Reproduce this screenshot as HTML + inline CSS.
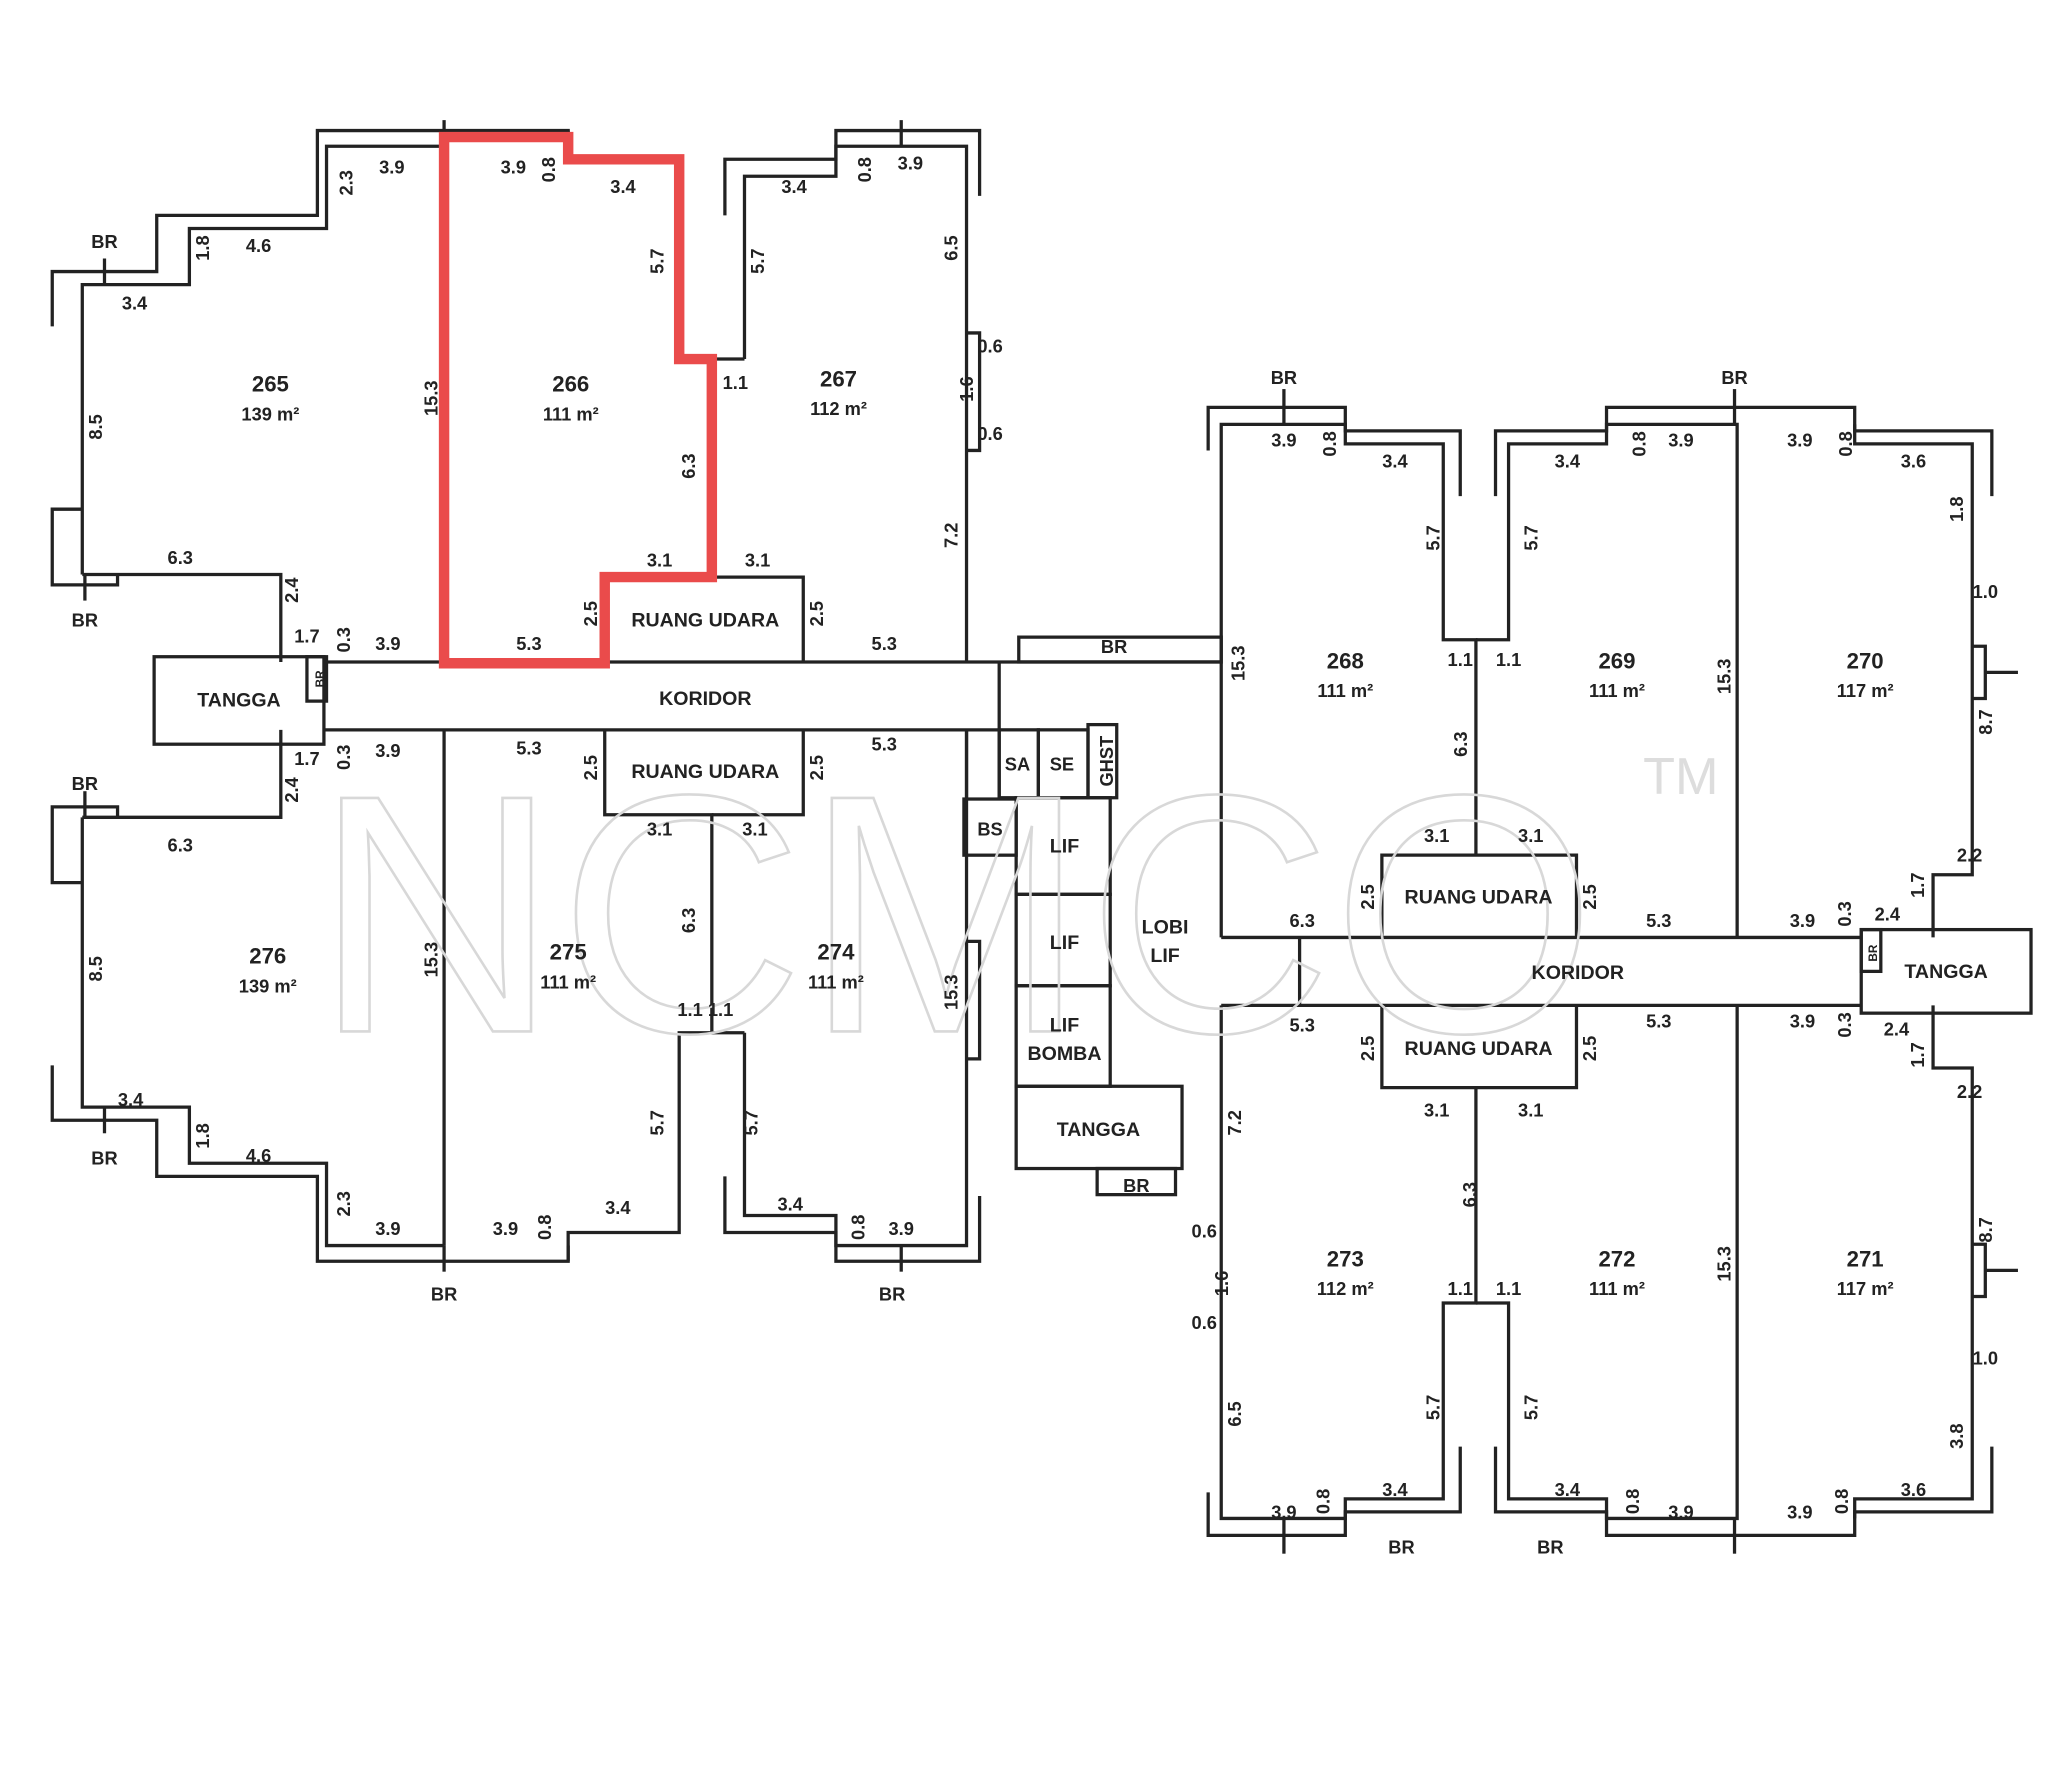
<!DOCTYPE html>
<html><head><meta charset="utf-8"><style>
html,body{margin:0;padding:0;background:#fff;}
svg{display:block;}
text{font-family:"Liberation Sans",sans-serif;font-weight:bold;fill:#222;}
.d{font-size:14px;}
.l{font-size:15px;}
.n{font-size:17px;}
</style></head><body>
<svg width="2048" height="1790" viewBox="0 0 1568 1371" preserveAspectRatio="none" xmlns="http://www.w3.org/2000/svg">
<rect width="1568" height="1371" fill="#fff"/>
<g fill="none" stroke="#222" stroke-width="2.5">
<g id="lt">
<polyline points="63,440 63,218 145,218 145,175 250,175 250,112 340,112"/>
<polyline points="40,250 40,208 120,208 120,165 243,165 243,100 435,100 435,112"/>
<polyline points="63,390 40,390 40,448 90,448 90,440"/>
<line x1="80" y1="198" x2="80" y2="218"/>
<line x1="65" y1="440" x2="65" y2="460"/>
<polyline points="63,440 215,440 215,507"/>
<line x1="340" y1="112" x2="340" y2="507"/>
<polyline points="435,100 435,122 520,122 520,275 545,275 545,442 463,442 463,507"/>
<polyline points="555,165 555,122 640,122 640,100 750,100 750,150"/>
<polyline points="570,275 570,135 640,135 640,112 740,112 740,507"/>
<polyline points="740,255 750,255 750,345 740,345"/>
<line x1="545" y1="275" x2="570" y2="275"/>
<polyline points="545,442 615,442 615,507"/>
<line x1="690" y1="92" x2="690" y2="112"/>
<line x1="340" y1="92" x2="340" y2="112"/>
</g>
<use href="#lt" transform="matrix(1 0 0 -1 0 1066)"/>
<line x1="248" y1="507" x2="935" y2="507"/>
<line x1="248" y1="559" x2="765" y2="559"/>
<rect x="118" y="503" width="130" height="67"/>
<rect x="235" y="503" width="15" height="34"/>
<rect x="780" y="488" width="155" height="19"/>
<line x1="765" y1="507" x2="765" y2="612"/>
<rect x="765" y="559" width="30" height="52"/>
<rect x="795" y="559" width="38" height="52"/>
<rect x="833" y="555" width="22" height="56"/>
<rect x="738" y="612" width="40" height="43"/>
<line x1="740" y1="559" x2="740" y2="612"/>
<rect x="778" y="611" width="72" height="74"/>
<rect x="778" y="685" width="72" height="70"/>
<rect x="778" y="755" width="72" height="77"/>
<rect x="778" y="832" width="127" height="63"/>
<rect x="840" y="895" width="60" height="20"/>
<g id="rt">
<polyline points="935,718 935,325 1030,325 1030,340 1105,340 1105,490 1130,490 1130,655"/>
<polyline points="925,345 925,312 1030,312 1030,330 1118,330 1118,380"/>
<line x1="983" y1="298" x2="983" y2="325"/>
<polyline points="1130,490 1155,490 1155,340 1230,340 1230,325 1330,325 1330,718"/>
<polyline points="1145,380 1145,330 1230,330 1230,312 1420,312 1420,330 1525,330 1525,380"/>
<line x1="1328" y1="298" x2="1328" y2="325"/>
<polyline points="1420,325 1420,340 1510,340 1510,670 1480,670 1480,718"/>
<polyline points="1510,495 1520,495 1520,535 1510,535"/>
<line x1="1520" y1="515" x2="1545" y2="515"/>
<polyline points="1058,718 1058,655 1207,655 1207,718"/>
<line x1="935" y1="718" x2="1425" y2="718"/>
</g>
<use href="#rt" transform="matrix(1 0 0 -1 0 1488)"/>
<line x1="995" y1="718" x2="995" y2="770"/>
<rect x="1425" y="712" width="130" height="64"/>
<rect x="1425" y="712" width="15" height="32"/>
</g>
<polygon points="340,105 435,105 435,122 520,122 520,275 545,275 545,442 463,442 463,508 340,508" fill="none" stroke="#ea4b4b" stroke-width="8"/>
<text x="240" y="790" font-size="260" style="fill:none;stroke:#d8d8d8;stroke-width:2;font-weight:normal">NCMCO</text>
<text x="1258" y="608" font-size="40" style="fill:#ddd;font-weight:normal">TM</text>
<!-- unit labels -->
<g class="n" text-anchor="middle">
<text x="207" y="300">265</text><text x="207" y="322" class="d">139 m²</text>
<text x="437" y="300">266</text><text x="437" y="322" class="d">111 m²</text>
<text x="642" y="296">267</text><text x="642" y="318" class="d">112 m²</text>
<text x="205" y="738">276</text><text x="205" y="760" class="d">139 m²</text>
<text x="435" y="735">275</text><text x="435" y="757" class="d">111 m²</text>
<text x="640" y="735">274</text><text x="640" y="757" class="d">111 m²</text>
<text x="1030" y="512">268</text><text x="1030" y="534" class="d">111 m²</text>
<text x="1238" y="512">269</text><text x="1238" y="534" class="d">111 m²</text>
<text x="1428" y="512">270</text><text x="1428" y="534" class="d">117 m²</text>
<text x="1030" y="970">273</text><text x="1030" y="992" class="d">112 m²</text>
<text x="1238" y="970">272</text><text x="1238" y="992" class="d">111 m²</text>
<text x="1428" y="970">271</text><text x="1428" y="992" class="d">117 m²</text>
</g>
<g class="l" text-anchor="middle">
<text x="540" y="480">RUANG UDARA</text>
<text x="540" y="596">RUANG UDARA</text>
<text x="540" y="540">KORIDOR</text>
<text x="183" y="541">TANGGA</text>
<text x="1132" y="692">RUANG UDARA</text>
<text x="1132" y="808">RUANG UDARA</text>
<text x="1208" y="750">KORIDOR</text>
<text x="1490" y="749">TANGGA</text>
<text x="841" y="870">TANGGA</text>
<text x="815" y="653">LIF</text><text x="815" y="727">LIF</text>
<text x="815" y="790">LIF</text><text x="815" y="812">BOMBA</text>
<text x="892" y="715">LOBI</text><text x="892" y="737">LIF</text>
<text x="758" y="640" class="d">BS</text>
<text x="779" y="590" class="d">SA</text><text x="813" y="590" class="d">SE</text>
</g>
<g class="d" text-anchor="middle">
<text x="80" y="190">BR</text><text x="65" y="480">BR</text><text x="65" y="605">BR</text><text x="80" y="892">BR</text>
<text x="340" y="996">BR</text><text x="683" y="996">BR</text>
<text x="983" y="294">BR</text><text x="1328" y="294">BR</text>
<text x="853" y="500">BR</text><text x="870" y="913">BR</text>
<text x="1073" y="1190">BR</text><text x="1187" y="1190">BR</text>
<text x="300" y="133">3.9</text><text x="393" y="133">3.9</text><text x="477" y="148">3.4</text>
<text x="608" y="148">3.4</text><text x="697" y="130">3.9</text>
<text x="198" y="193">4.6</text><text x="103" y="237">3.4</text>
<text x="138" y="432">6.3</text><text x="235" y="492">1.7</text><text x="297" y="498">3.9</text>
<text x="405" y="498">5.3</text><text x="505" y="434">3.1</text><text x="580" y="434">3.1</text>
<text x="677" y="498">5.3</text><text x="563" y="298">1.1</text>
<text x="758" y="270">0.6</text><text x="758" y="337">0.6</text>
<text x="235" y="586">1.7</text><text x="297" y="580">3.9</text>
<text x="405" y="578">5.3</text><text x="677" y="575">5.3</text>
<text x="505" y="640">3.1</text><text x="578" y="640">3.1</text>
<text x="138" y="652">6.3</text><text x="100" y="847">3.4</text><text x="198" y="890">4.6</text>
<text x="297" y="946">3.9</text><text x="387" y="946">3.9</text><text x="473" y="930">3.4</text>
<text x="605" y="927">3.4</text><text x="690" y="946">3.9</text>
<text x="540" y="778">1.1 1.1</text>
<text x="983" y="342">3.9</text><text x="1068" y="358">3.4</text>
<text x="1200" y="358">3.4</text><text x="1287" y="342">3.9</text>
<text x="1378" y="342">3.9</text><text x="1465" y="358">3.6</text>
<text x="1118" y="510">1.1</text><text x="1155" y="510">1.1</text>
<text x="1100" y="645">3.1</text><text x="1172" y="645">3.1</text>
<text x="997" y="710">6.3</text><text x="1270" y="710">5.3</text>
<text x="1380" y="710">3.9</text><text x="1445" y="705">2.4</text>
<text x="1508" y="660">2.2</text><text x="1520" y="458">1.0</text>
<text x="997" y="790">5.3</text><text x="1270" y="787">5.3</text>
<text x="1380" y="787">3.9</text><text x="1452" y="793">2.4</text>
<text x="1508" y="841">2.2</text><text x="1520" y="1045">1.0</text>
<text x="1100" y="855">3.1</text><text x="1172" y="855">3.1</text>
<text x="1118" y="992">1.1</text><text x="1155" y="992">1.1</text>
<text x="922" y="948">0.6</text><text x="922" y="1018">0.6</text>
<text x="983" y="1163">3.9</text><text x="1068" y="1146">3.4</text>
<text x="1200" y="1146">3.4</text><text x="1287" y="1163">3.9</text>
<text x="1378" y="1163">3.9</text><text x="1465" y="1146">3.6</text>
</g>
<g class="d" text-anchor="middle">
<text transform="translate(270,140) rotate(-90)">2.3</text>
<text transform="translate(160,190) rotate(-90)">1.8</text>
<text transform="translate(78,327) rotate(-90)">8.5</text>
<text transform="translate(335,305) rotate(-90)">15.3</text>
<text transform="translate(228,452) rotate(-90)">2.4</text>
<text transform="translate(268,490) rotate(-90)">0.3</text>
<text transform="translate(457,470) rotate(-90)">2.5</text>
<text transform="translate(630,470) rotate(-90)">2.5</text>
<text transform="translate(508,200) rotate(-90)">5.7</text>
<text transform="translate(585,200) rotate(-90)">5.7</text>
<text transform="translate(532,357) rotate(-90)">6.3</text>
<text transform="translate(733,190) rotate(-90)">6.5</text>
<text transform="translate(745,298) rotate(-90)">1.6</text>
<text transform="translate(733,410) rotate(-90)">7.2</text>
<text transform="translate(425,130) rotate(-90)">0.8</text>
<text transform="translate(667,130) rotate(-90)">0.8</text>
<text transform="translate(268,580) rotate(-90)">0.3</text>
<text transform="translate(228,605) rotate(-90)">2.4</text>
<text transform="translate(457,588) rotate(-90)">2.5</text>
<text transform="translate(630,588) rotate(-90)">2.5</text>
<text transform="translate(78,742) rotate(-90)">8.5</text>
<text transform="translate(335,735) rotate(-90)">15.3</text>
<text transform="translate(532,705) rotate(-90)">6.3</text>
<text transform="translate(733,760) rotate(-90)">15.3</text>
<text transform="translate(508,860) rotate(-90)">5.7</text>
<text transform="translate(580,860) rotate(-90)">5.7</text>
<text transform="translate(160,870) rotate(-90)">1.8</text>
<text transform="translate(268,922) rotate(-90)">2.3</text>
<text transform="translate(422,940) rotate(-90)">0.8</text>
<text transform="translate(662,940) rotate(-90)">0.8</text>
<text transform="translate(852,583) rotate(-90)">GHST</text>
<text transform="translate(248,520) rotate(-90)" font-size="9">BR</text>
<text transform="translate(1023,340) rotate(-90)">0.8</text>
<text transform="translate(1260,340) rotate(-90)">0.8</text>
<text transform="translate(1418,340) rotate(-90)">0.8</text>
<text transform="translate(1102,412) rotate(-90)">5.7</text>
<text transform="translate(1177,412) rotate(-90)">5.7</text>
<text transform="translate(1503,390) rotate(-90)">1.8</text>
<text transform="translate(953,508) rotate(-90)">15.3</text>
<text transform="translate(1325,518) rotate(-90)">15.3</text>
<text transform="translate(1525,553) rotate(-90)">8.7</text>
<text transform="translate(1123,570) rotate(-90)">6.3</text>
<text transform="translate(1052,687) rotate(-90)">2.5</text>
<text transform="translate(1222,687) rotate(-90)">2.5</text>
<text transform="translate(1417,700) rotate(-90)">0.3</text>
<text transform="translate(1473,678) rotate(-90)">1.7</text>
<text transform="translate(1052,803) rotate(-90)">2.5</text>
<text transform="translate(1222,803) rotate(-90)">2.5</text>
<text transform="translate(1417,785) rotate(-90)">0.3</text>
<text transform="translate(1473,808) rotate(-90)">1.7</text>
<text transform="translate(950,860) rotate(-90)">7.2</text>
<text transform="translate(1130,915) rotate(-90)">6.3</text>
<text transform="translate(1325,968) rotate(-90)">15.3</text>
<text transform="translate(1525,942) rotate(-90)">8.7</text>
<text transform="translate(940,983) rotate(-90)">1.6</text>
<text transform="translate(950,1083) rotate(-90)">6.5</text>
<text transform="translate(1102,1078) rotate(-90)">5.7</text>
<text transform="translate(1177,1078) rotate(-90)">5.7</text>
<text transform="translate(1503,1100) rotate(-90)">3.8</text>
<text transform="translate(1018,1150) rotate(-90)">0.8</text>
<text transform="translate(1255,1150) rotate(-90)">0.8</text>
<text transform="translate(1415,1150) rotate(-90)">0.8</text>
<text transform="translate(1437,730) rotate(-90)" font-size="9">BR</text>
</g>
</svg>
</body></html>
